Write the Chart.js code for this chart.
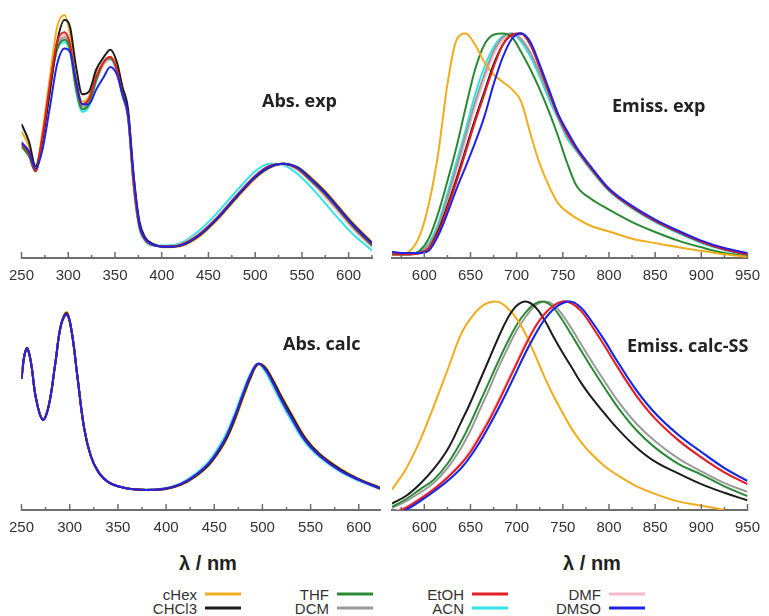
<!DOCTYPE html>
<html>
<head>
<meta charset="utf-8">
<script src="https://cdn.jsdelivr.net/npm/chart.js@4.4.1/dist/chart.umd.min.js"></script>
<style>
  body { margin: 0; background: #fff; }
  #page { position: relative; width: 769px; height: 616px; overflow: hidden; font-family: 'Liberation Sans', Arial, sans-serif; }
  canvas { position: absolute; }
  .tag { position: absolute; font-family: 'Open Sans', sans-serif; font-weight: 700; font-size: 18px; color: #222; white-space: nowrap; line-height: 1; transform: translateY(-50%); }
  .xt { position: absolute; font-weight: 700; font-size: 20px; color: #222; white-space: nowrap; line-height: 1; transform: translate(-50%, -50%); }
  .lg { position: absolute; font-size: 15px; color: #333; line-height: 1; white-space: nowrap; transform: translate(-100%, -50%); }
  .ln { position: absolute; height: 3px; width: 36px; transform: translateY(-50%); }
</style>
</head>
<body>
<div id="page">
  <canvas id="absExp" width="385" height="300" style="left:0;top:0"></canvas>
  <canvas id="emExp" width="384" height="300" style="left:385px;top:0"></canvas>
  <canvas id="absCalc" width="385" height="262" style="left:0;top:285px"></canvas>
  <canvas id="emCalc" width="384" height="262" style="left:385px;top:285px"></canvas>
  <div class="tag" style="left:262px;top:100px">Abs. exp</div>
  <div class="tag" style="left:612px;top:105px">Emiss. exp</div>
  <div class="tag" style="left:283px;top:343px">Abs. calc</div>
  <div class="tag" style="left:627px;top:345px">Emiss. calc-SS</div>
  <div class="xt" style="left:208px;top:563px">λ / nm</div>
  <div class="xt" style="left:592px;top:563px">λ / nm</div>
  <div id="legend"></div>
</div>
<script>
// solvents, in legend order
const names = ['cHex', 'CHCl3', 'THF', 'DCM', 'EtOH', 'ACN', 'DMF', 'DMSO'];
const colors = ['#f0ac1c', '#1c1c1c', '#2a8a34', '#9a9a9a', '#e31f26', '#30e4ea', '#f6b9c9', '#2222e2'];
// lower = drawn on top
const drawRank = [4, 3, 5, 6, 2, 8, 7, 1];

// tick labels
const uvTicks = [250, 300, 350, 400, 450, 500, 550, 600];
const uvMinor = [275, 325, 375, 425, 475, 525, 575, 625];
const emTicks = [600, 650, 700, 750, 800, 850, 900, 950];
const emMinor = [575, 625, 675, 725, 775, 825, 875, 925];

// Abs. exp
const absExpNm = [250, 258, 265, 272, 280, 288, 296, 302, 308, 315, 322, 330, 338, 345, 352, 358, 364, 370, 376, 382, 390, 405, 420, 440, 460, 480, 500, 515, 530, 545, 560, 575, 590, 605, 625];
const absExp_cHex  = [51, 45, 36, 50, 72, 93, 98, 90, 73, 63, 65, 74, 79, 81, 77, 67, 58, 31, 14, 8, 5.5, 4.3, 4.7, 8.5, 15.5, 24, 32, 36.2, 38, 36.8, 32.5, 27, 20.5, 14, 6.5];
const absExp_CHCl3 = [54, 47, 37, 47, 66, 87, 96, 93, 78, 66, 67, 76, 81, 84, 79, 69, 60, 33, 15, 8.5, 5.8, 4.5, 5, 9, 16, 24.5, 32.5, 36.5, 38, 36.5, 32, 26.5, 20, 13.5, 6];
const absExp_THF   = [45, 41, 35, 47, 68, 84, 88, 84, 69, 60, 62, 72, 79, 80.5, 76, 66, 57, 30, 13, 7.5, 5.3, 4.6, 5.3, 9.5, 16.5, 25, 33, 37, 38, 36, 31, 25.5, 19, 12.5, 5];
const absExp_DCM   = [46, 42, 35, 47, 68, 85, 89, 85, 70, 61, 63, 72, 79, 81, 76, 66, 57, 30, 13, 7.5, 5.3, 4.6, 5.3, 9.5, 16.5, 25, 33, 37, 38, 36, 31, 25.5, 19, 12.5, 5];
const absExp_EtOH  = [46, 42, 35, 48, 69, 87, 91, 86, 71, 62, 64, 73, 79, 81, 76, 66, 57, 30, 13, 7.5, 5.3, 4.6, 5.3, 9.5, 16.5, 25, 33, 37, 38, 36.2, 31.5, 26, 19.5, 13, 5.5];
const absExp_ACN   = [45, 41, 35, 47, 68, 84, 87, 83, 68, 59, 61, 71, 78, 80, 75, 65, 56, 28, 12, 7, 5, 5, 6, 11, 18.5, 27, 35, 38, 37.5, 34, 28.5, 22, 15.5, 9.5, 3];
const absExp_DMF   = [47, 43, 36, 48, 68, 86, 90, 86, 71, 62, 63, 72, 78, 80.5, 76, 66, 57, 30, 13, 7.5, 5.3, 4.7, 5.5, 10, 17, 25.5, 33.5, 37.2, 37.8, 35.5, 30.5, 24.5, 18, 11.5, 4.3];
const absExp_DMSO  = [46.5, 43, 36, 43, 60, 78, 84.5, 83, 72, 62, 62, 68, 73, 77, 74, 66, 58, 33, 14, 8, 5.5, 4.5, 5, 9.2, 16.2, 24.7, 32.7, 36.7, 38, 36.5, 31.8, 26.2, 19.8, 13.2, 5.8];

// Emiss. exp
const emExpNm = [565, 575, 585, 595, 605, 615, 625, 635, 645, 655, 665, 675, 685, 695, 705, 715, 725, 735, 745, 755, 765, 780, 800, 825, 850, 875, 900, 925, 950];
const emExp_cHex  = [1.5, 1.5, 3, 9, 22, 42, 70, 88, 90.5, 86, 79, 74, 71, 68, 63, 50, 38, 29, 22, 18.5, 16, 13, 10.7, 7.8, 6, 4.3, 2.9, 1.5, 0.5];
const emExp_CHCl3 = [1.5, 1.5, 1.5, 2, 4, 11, 21, 32, 44, 56, 67, 78, 86, 90, 90.5, 86, 77, 67, 57.5, 50, 44, 36.5, 27.5, 20.5, 15, 10.5, 6.5, 3.5, 1.5];
const emExp_THF   = [1.5, 1.5, 1.5, 3, 8, 18, 31, 45, 61, 76, 86, 90, 90.5, 89, 83, 76, 68, 59, 49, 38, 29, 24, 19.5, 14.5, 10.5, 7, 4.3, 2, 0.8];
const emExp_DCM   = [1.5, 1.5, 1.5, 2.5, 5.5, 13, 24.5, 37, 50, 63, 74, 83.5, 89, 90.5, 88, 82.5, 74.5, 65.5, 56.5, 49, 43.5, 36, 27.5, 20.5, 15, 10.5, 6.5, 3.5, 1.5];
const emExp_EtOH  = [1.5, 1.5, 1.5, 2, 4, 10, 20, 31, 43, 55, 66, 77, 86, 90, 90.5, 86, 77, 67, 57.5, 50, 44, 36.5, 27.5, 20.5, 15, 10.5, 6.5, 3.5, 1.5];
const emExp_ACN   = [1.5, 1.5, 1.5, 2.5, 6, 14, 26, 39, 52, 66, 77, 85, 89.5, 90.5, 87, 81, 73, 64, 56, 48, 43, 35.5, 27, 20, 14.5, 10, 6, 3.2, 1.2];
const emExp_DMF   = [1.5, 1.5, 1.5, 2.5, 5, 12, 23, 35, 48, 61, 72, 82, 88, 90.5, 88.5, 83, 75, 66, 57, 49.5, 43.5, 36, 27.5, 20.5, 15, 10.5, 6.5, 3.5, 1.5];
const emExp_DMSO  = [2.5, 2, 2, 2, 3, 9, 18, 28, 37, 46.5, 57, 70, 81, 88.5, 90.5, 87, 78, 68, 58, 51, 44.5, 37, 28, 21, 15.5, 11, 7, 4, 2];

// Abs. calc
const absCalcNm = [250, 253, 256, 260, 265, 272, 278, 285, 291, 297, 302, 308, 315, 322, 330, 340, 355, 370, 385, 400, 415, 430, 445, 460, 470, 480, 488, 495, 502, 510, 520, 530, 545, 560, 580, 600, 622];
const absCalc_cHex  = [61, 72, 75.5, 68.5, 52, 42, 48, 68, 86.5, 92, 83.5, 62.5, 38.5, 25, 17.5, 13, 10.5, 9.5, 9.3, 9.8, 11.6, 15.3, 21, 30.5, 40, 52, 61.5, 67.5, 67, 61.5, 53, 45, 33.5, 26, 19.5, 14.5, 10.5];
const absCalc_CHCl3 = [61, 72, 75.3, 68.3, 52, 42, 48, 68, 86.3, 91.6, 83.3, 62.3, 38.3, 25, 17.5, 13, 10.5, 9.5, 9.3, 9.8, 11.7, 15.5, 21.3, 31, 40.8, 53, 62, 67.8, 66.7, 61, 52.3, 44.3, 33, 25.7, 19.2, 14.3, 10.3];
const absCalc_THF   = [61, 72, 75, 68, 52, 42, 48, 68, 86, 91, 83, 62, 38, 25, 17.5, 13, 10.5, 9.5, 9.4, 10, 11.9, 15.8, 21.7, 31.6, 41.5, 53.5, 62.6, 67.9, 66.3, 60.5, 51.7, 43.7, 32.5, 25.3, 18.8, 14.1, 10.1];
const absCalc_DCM   = [61, 72, 75, 68, 52, 42, 48, 68, 86, 91, 83, 62, 38, 25, 17.5, 13, 10.5, 9.5, 9.4, 10, 11.9, 15.8, 21.8, 31.7, 41.6, 53.6, 62.7, 67.9, 66.2, 60.4, 51.5, 43.5, 32.3, 25.2, 18.7, 14.1, 10.1];
const absCalc_EtOH  = [61, 72, 75, 68, 52, 42, 48, 68, 86, 91, 83, 62, 38, 25, 17.5, 13, 10.5, 9.5, 9.4, 10, 12, 16, 22, 32, 42, 54, 63, 68, 66, 60, 51, 43, 32, 25, 18.5, 14, 10];
const absCalc_ACN   = [61, 72, 75, 68, 52, 42, 48, 68, 86, 91, 83, 62, 38, 25, 17.5, 13, 10.5, 9.5, 9.5, 10.2, 12.4, 16.7, 23, 33.5, 43.5, 55.5, 64, 68, 65, 58.5, 49.5, 41.5, 31, 24.3, 18, 13.6, 9.7];
const absCalc_DMF   = [61, 72, 75, 68, 52, 42, 48, 68, 86, 91, 83, 62, 38, 25, 17.5, 13, 10.5, 9.5, 9.4, 10, 12, 16, 22, 32, 42, 54, 63, 68, 66, 60, 51, 43, 32, 25, 18.5, 14, 10];
const absCalc_DMSO  = [61, 72, 75, 68, 52, 42, 48, 68, 86, 91, 83, 62, 38, 25, 17.5, 13, 10.5, 9.5, 9.4, 10, 12, 16, 22, 32, 42, 54, 63, 68, 66, 60, 51, 43, 32, 25, 18.5, 14, 10];

// Emiss. calc-SS
const emCalcNm = [565, 580, 595, 610, 625, 640, 650, 660, 670, 680, 690, 700, 710, 720, 730, 740, 750, 760, 770, 780, 795, 810, 830, 850, 875, 900, 925, 950];
const emCalc_cHex  = [9.5, 19, 32, 48, 65, 82, 89, 94, 96.5, 96.8, 94, 89, 81.5, 72, 62, 53, 45, 37.5, 31.5, 26.5, 20.5, 16, 11, 7.5, 4, 2, 0, null];
const emCalc_CHCl3 = [3, 6.5, 12, 19, 28, 41, 50, 60, 70, 80, 89, 95, 97, 94.5, 88.5, 80.5, 73, 66, 59, 53, 45, 37.5, 29, 22.5, 17, 12, 8, 4.5];
const emCalc_THF   = [1.5, 5, 9.5, 14, 21.5, 32, 40.5, 50, 59.5, 69, 78, 86, 92, 96, 96.8, 94, 88, 81, 74, 67, 57, 47.5, 37, 29, 21.5, 16.5, 11, 6.5];
const emCalc_DCM   = [1, 4, 8, 12.5, 19.5, 29, 37, 46.5, 56, 66, 75, 83.5, 90, 95, 97, 95.5, 90.5, 84, 77, 70, 60, 50.5, 40, 32, 24, 18, 12.5, 8.5];
const emCalc_EtOH  = [-1.5, 1, 5, 9.5, 15, 21.5, 27, 34, 41.5, 50, 59, 68, 77, 85, 91, 95, 97, 96, 92.5, 86.5, 76.5, 66, 53, 42.5, 32.5, 24.5, 17.5, 12];
const emCalc_ACN   = [-3, 0, 4, 8.5, 13.5, 19.5, 25, 31.5, 39, 47, 55.5, 64.5, 73.5, 81.5, 88.5, 93.5, 96.3, 96.8, 94, 88.5, 79, 68.5, 55.5, 45, 35, 27, 19.5, 13.5];
const emCalc_DMF   = [-1, 1.5, 5.5, 10, 15.5, 22, 28, 35, 42.5, 51, 60, 69, 78, 85.5, 91.5, 95.3, 97, 96, 92.5, 86.5, 76.5, 66, 53, 42.5, 32.5, 24.5, 17.5, 12];
const emCalc_DMSO  = [-3, 0, 4, 8.5, 13.5, 19.5, 25, 31.5, 39, 47, 55.5, 64.5, 73.5, 81.5, 88.5, 93.5, 96.3, 96.8, 94, 88.5, 79, 68.5, 55.5, 45, 35, 27, 19.5, 13.5];

// small upward tick marks on the x axis
const axisTicks = {
  id: 'axisTicks',
  afterDatasetsDraw(chart, args, opts) {
    const { ctx, chartArea } = chart;
    const sx = chart.scales.x;
    const y0 = chartArea.bottom;
    ctx.save();
    ctx.strokeStyle = '#6e6e6e';
    ctx.lineWidth = 1.5;
    ctx.beginPath();
    opts.major.forEach(v => {
      const px = sx.getPixelForValue(v);
      ctx.moveTo(px, y0 + 1);
      ctx.lineTo(px, y0 - 6);
    });
    opts.minor.forEach(v => {
      const px = sx.getPixelForValue(v);
      ctx.moveTo(px, y0 + 1);
      ctx.lineTo(px, y0 - 3);
    });
    ctx.stroke();
    ctx.restore();
  }
};

function makePanel(id, nm, series, xMin, xMax, major, minor, pad, smooth) {
  const datasets = series.map((vals, i) => ({
    label: names[i],
    data: nm.map((x, k) => ({ x: x, y: vals[k] })),
    borderColor: colors[i],
    borderWidth: 2,
    pointRadius: 0,
    fill: false,
    cubicInterpolationMode: smooth ? 'default' : 'monotone',
    tension: 0.4,
    order: drawRank[i]
  }));
  return new Chart(document.getElementById(id), {
    type: 'line',
    data: { datasets: datasets },
    options: {
      responsive: false,
      animation: false,
      events: [],
      layout: { padding: pad },
      plugins: {
        legend: { display: false },
        tooltip: { enabled: false },
        axisTicks: { major: major, minor: minor }
      },
      scales: {
        x: {
          type: 'linear',
          min: xMin,
          max: xMax,
          afterBuildTicks: s => { s.ticks = major.map(v => ({ value: v })); },
          grid: { display: false, drawTicks: false },
          border: { display: true, color: '#6e6e6e', width: 2 },
          ticks: {
            color: '#333',
            font: { family: 'Liberation Sans', size: 15 },
            padding: 9,
            maxRotation: 0,
            autoSkip: false
          }
        },
        y: { display: false, min: 0, max: 100 }
      }
    },
    plugins: [axisTicks]
  });
}

makePanel('absExp', absExpNm,
  [absExp_cHex, absExp_CHCl3, absExp_THF, absExp_DCM, absExp_EtOH, absExp_ACN, absExp_DMF, absExp_DMSO],
  250, 625, uvTicks, uvMinor, { left: 20, right: 13, top: 10, bottom: 6 }, false);

makePanel('emExp', emExpNm,
  [emExp_cHex, emExp_CHCl3, emExp_THF, emExp_DCM, emExp_EtOH, emExp_ACN, emExp_DMF, emExp_DMSO],
  565, 950, emTicks, emMinor, { left: 7, right: 16.5, top: 10, bottom: 6 }, false);

makePanel('absCalc', absCalcNm,
  [absCalc_cHex, absCalc_CHCl3, absCalc_THF, absCalc_DCM, absCalc_EtOH, absCalc_ACN, absCalc_DMF, absCalc_DMSO],
  250, 622, uvTicks, uvMinor.slice(0, 7), { left: 19.3, right: 5, top: 10, bottom: 1 }, true);

makePanel('emCalc', emCalcNm,
  [emCalc_cHex, emCalc_CHCl3, emCalc_THF, emCalc_DCM, emCalc_EtOH, emCalc_ACN, emCalc_DMF, emCalc_DMSO],
  565, 950, emTicks, emMinor, { left: 7, right: 16.5, top: 10, bottom: 1 }, true);

// legend: 4 columns x 2 rows, label then line sample
const legendTextRight = [197, 329, 464, 601];
const legendRowY = [594, 608];
const legend = document.getElementById('legend');
names.forEach((n, i) => {
  const col = Math.floor(i / 2), row = i % 2;
  const t = document.createElement('div');
  t.className = 'lg';
  t.textContent = n;
  t.style.left = legendTextRight[col] + 'px';
  t.style.top = legendRowY[row] + 'px';
  legend.appendChild(t);
  const l = document.createElement('div');
  l.className = 'ln';
  l.style.left = (legendTextRight[col] + 8) + 'px';
  l.style.top = legendRowY[row] + 'px';
  l.style.background = colors[i];
  legend.appendChild(l);
});
</script>
</body>
</html>
